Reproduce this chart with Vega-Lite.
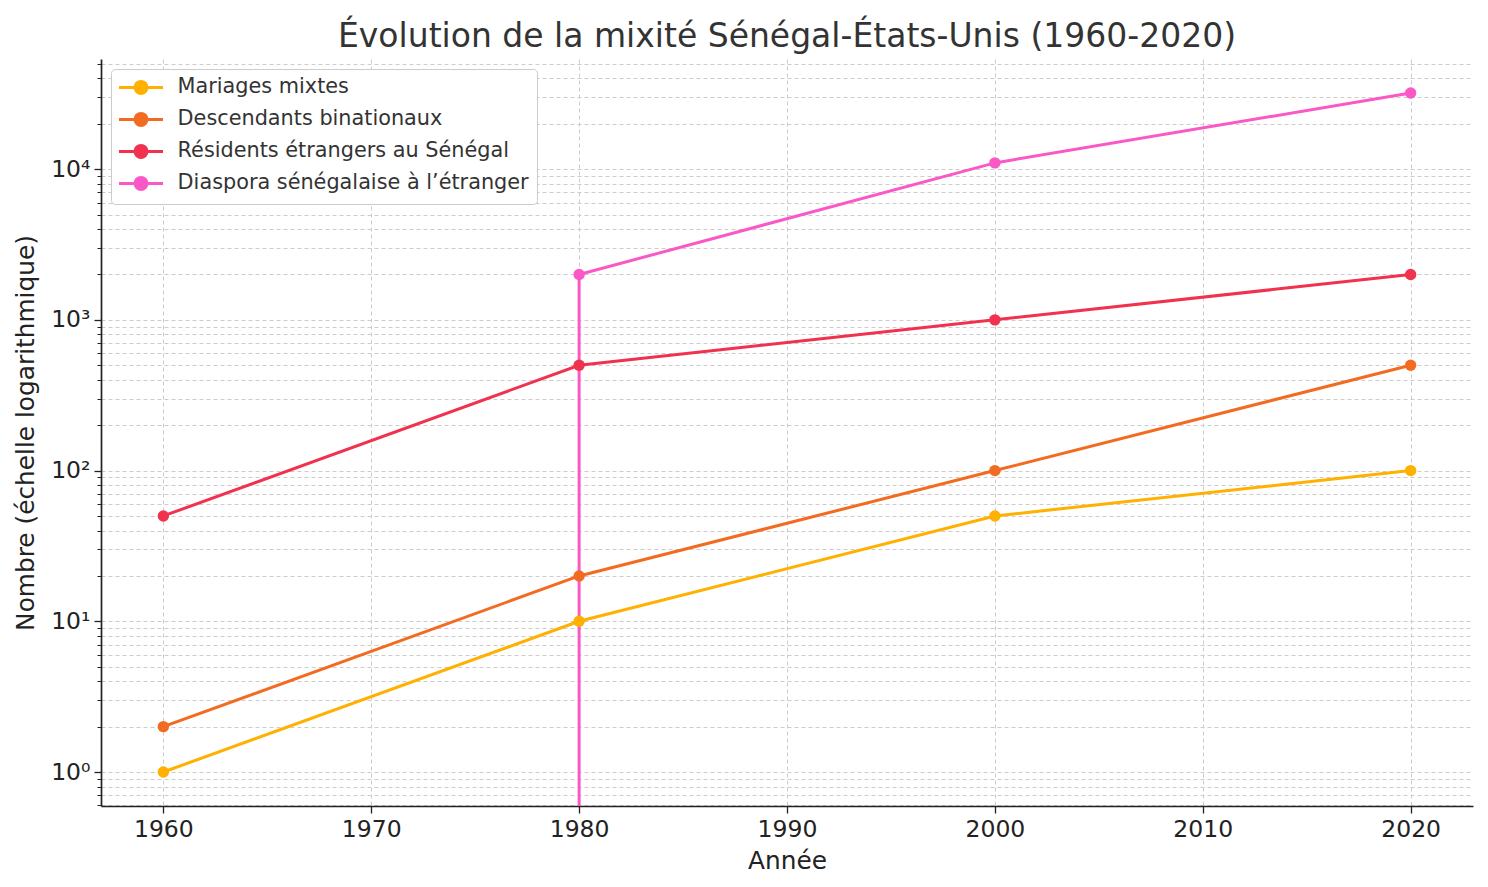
{
  "$schema": "https://vega.github.io/schema/vega-lite/v6.json",
  "width": 1372,
  "height": 747,
  "autosize": {"type": "none"},
  "padding": {"left": 101, "top": 59, "right": 15, "bottom": 81},
  "background": "white",
  "title": {
    "text": "Évolution de la mixité Sénégal-États-Unis (1960-2020)",
    "font": "DejaVu Sans",
    "fontSize": 33,
    "fontWeight": "normal",
    "color": "#333333",
    "anchor": "middle",
    "offset": 5
  },
  "config": {
    "view": {"stroke": null},
    "font": "DejaVu Sans",
    "axis": {
      "labelFont": "DejaVu Sans",
      "titleFont": "DejaVu Sans",
      "labelFontSize": 23.5,
      "titleFontSize": 24.8,
      "titleFontWeight": "normal",
      "labelColor": "#222222",
      "titleColor": "#222222",
      "domainColor": "#222222",
      "domainWidth": 1.7,
      "tickColor": "#222222",
      "tickWidth": 1.3,
      "gridColor": "#cccccc",
      "gridDash": [4, 3],
      "gridWidth": 1
    }
  },
  "data": {
    "values": [
      {"Serie": "Mariages mixtes", "Annee": 1960, "Nombre": 1},
      {"Serie": "Mariages mixtes", "Annee": 1980, "Nombre": 10},
      {"Serie": "Mariages mixtes", "Annee": 2000, "Nombre": 50},
      {"Serie": "Mariages mixtes", "Annee": 2020, "Nombre": 100},
      {"Serie": "Descendants binationaux", "Annee": 1960, "Nombre": 2},
      {"Serie": "Descendants binationaux", "Annee": 1980, "Nombre": 20},
      {"Serie": "Descendants binationaux", "Annee": 2000, "Nombre": 100},
      {"Serie": "Descendants binationaux", "Annee": 2020, "Nombre": 500},
      {"Serie": "Résidents étrangers au Sénégal", "Annee": 1960, "Nombre": 50},
      {"Serie": "Résidents étrangers au Sénégal", "Annee": 1980, "Nombre": 500},
      {"Serie": "Résidents étrangers au Sénégal", "Annee": 2000, "Nombre": 1000},
      {"Serie": "Résidents étrangers au Sénégal", "Annee": 2020, "Nombre": 2000},
      {"Serie": "Diaspora sénégalaise à l’étranger", "Annee": 1960, "Nombre": 0},
      {"Serie": "Diaspora sénégalaise à l’étranger", "Annee": 1980, "Nombre": 2000},
      {"Serie": "Diaspora sénégalaise à l’étranger", "Annee": 2000, "Nombre": 11000},
      {"Serie": "Diaspora sénégalaise à l’étranger", "Annee": 2020, "Nombre": 32000}
    ]
  },
  "layer": [
    {
      "transform": [{"filter": "datum.Serie == 'Diaspora sénégalaise à l’étranger' && datum.Annee == 1980"}],
      "mark": {"type": "rule", "strokeWidth": 3, "clip": true},
      "encoding": {
        "x": {"field": "Annee", "type": "quantitative"},
        "y": {"field": "Nombre", "type": "quantitative", "axis": null},
        "y2": {"datum": 0.0001},
        "color": {"field": "Serie", "type": "nominal"}
      }
    },
    {
      "transform": [{"filter": "datum.Nombre > 0"}],
      "mark": {"type": "line", "strokeWidth": 3, "clip": true},
      "encoding": {
        "x": {
          "field": "Annee",
          "type": "quantitative",
          "title": "Année",
          "scale": {"domain": [1957, 2023], "nice": false, "zero": false},
          "axis": {
            "values": [1960, 1970, 1980, 1990, 2000, 2010, 2020],
            "format": "d",
            "grid": true,
            "ticks": true,
            "tickSize": 7,
            "labelPadding": 4,
            "titlePadding": 8,
            "labelFlush": false
          }
        },
        "y": {
          "field": "Nombre",
          "type": "quantitative",
          "title": "Nombre (échelle logarithmique)",
          "scale": {"type": "log", "domain": [0.595, 53800], "nice": false},
          "axis": {
            "orient": "left",
            "values": [1, 10, 100, 1000, 10000],
            "labelExpr": "datum.value == 1 ? '10⁰' : datum.value == 10 ? '10¹' : datum.value == 100 ? '10²' : datum.value == 1000 ? '10³' : '10⁴'",
            "grid": true,
            "ticks": true,
            "tickSize": 7,
            "labelPadding": 4,
            "titlePadding": 12
          }
        },
        "color": {
          "field": "Serie",
          "type": "nominal",
          "scale": {
            "domain": ["Mariages mixtes", "Descendants binationaux", "Résidents étrangers au Sénégal", "Diaspora sénégalaise à l’étranger"],
            "range": ["#ffb000", "#f26b21", "#f0324f", "#fa58c6"]
          },
          "legend": {
            "title": null,
            "orient": "none",
            "legendX": 10,
            "legendY": 10,
            "labelFont": "DejaVu Sans",
            "labelFontSize": 20.8,
            "labelColor": "#333333",
            "labelLimit": 600,
            "symbolType": "M-4.4,0L4.4,0M-1.2,0A1.2,1.2,0,1,0,1.2,0A1.2,1.2,0,1,0,-1.2,0Z",
            "symbolSize": 100,
            "symbolStrokeWidth": 3,
            "symbolOffset": 11.6,
            "labelOffset": 26.2,
            "rowPadding": 7,
            "padding": 8,
            "strokeColor": "#cccccc",
            "fillColor": "#ffffff",
            "cornerRadius": 4,
            "encode": {
              "symbols": {
                "update": {
                  "fill": {"scale": "color", "field": "value"},
                  "stroke": {"scale": "color", "field": "value"}
                }
              }
            }
          }
        }
      }
    },
    {
      "transform": [{"filter": "datum.Nombre > 0"}],
      "mark": {"type": "point", "filled": true, "size": 130, "opacity": 1, "clip": true},
      "encoding": {
        "x": {"field": "Annee", "type": "quantitative"},
        "y": {
          "field": "Nombre",
          "type": "quantitative",
          "axis": {
            "orient": "left",
            "values": [0.6, 0.7, 0.8, 0.9, 2, 3, 4, 5, 6, 7, 8, 9, 20, 30, 40, 50, 60, 70, 80, 90, 200, 300, 400, 500, 600, 700, 800, 900, 2000, 3000, 4000, 5000, 6000, 7000, 8000, 9000, 20000, 30000, 40000, 50000],
            "labels": false,
            "domain": false,
            "grid": true,
            "ticks": true,
            "title": null,
            "tickSize": 4,
            "tickWidth": 1
          }
        },
        "color": {"field": "Serie", "type": "nominal"}
      }
    }
  ],
  "resolve": {"axis": {"y": "independent"}}
}
